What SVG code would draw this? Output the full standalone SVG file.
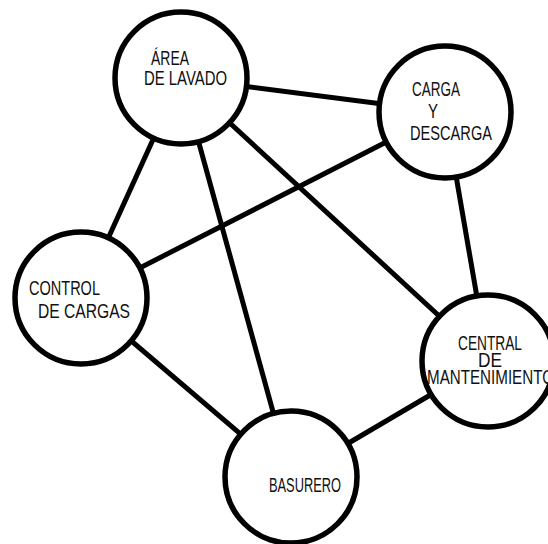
<svg xmlns="http://www.w3.org/2000/svg" width="548" height="544" viewBox="0 0 548 544">
<style>
.edge{stroke:#000;stroke-width:5;stroke-linecap:butt}
.node circle{fill:#fff;stroke:#000;stroke-width:5.5}
.node text{font-family:"Liberation Sans",Arial,sans-serif;font-size:21px;fill:#111}
</style>
<rect width="548" height="544" fill="#fff"/>
<g id="connectors">
<line class="edge" x1="181" y1="78" x2="445" y2="112"/>
<line class="edge" x1="181" y1="78" x2="81" y2="298"/>
<line class="edge" x1="181" y1="78" x2="291" y2="477"/>
<line class="edge" x1="181" y1="78" x2="488" y2="361"/>
<line class="edge" x1="445" y1="112" x2="81" y2="298"/>
<line class="edge" x1="445" y1="112" x2="488" y2="361"/>
<line class="edge" x1="81" y1="298" x2="291" y2="477"/>
<line class="edge" x1="291" y1="477" x2="488" y2="361"/>
</g>
<g id="area-lavado" class="node">
<circle cx="181" cy="78" r="66"/>
<text x="151" y="65" textLength="38" lengthAdjust="spacingAndGlyphs">ÁREA</text>
<text x="144" y="85" textLength="83" lengthAdjust="spacingAndGlyphs">DE LAVADO</text>
</g>
<g id="carga-descarga" class="node">
<circle cx="445" cy="112" r="66"/>
<text x="412" y="96" textLength="48" lengthAdjust="spacingAndGlyphs">CARGA</text>
<text x="428" y="118" textLength="10" lengthAdjust="spacingAndGlyphs">Y</text>
<text x="410" y="140" textLength="82" lengthAdjust="spacingAndGlyphs">DESCARGA</text>
</g>
<g id="control-cargas" class="node">
<circle cx="81" cy="298" r="66"/>
<text x="29" y="295" textLength="71" lengthAdjust="spacingAndGlyphs">CONTROL</text>
<text x="38" y="318" textLength="92" lengthAdjust="spacingAndGlyphs">DE CARGAS</text>
</g>
<g id="central-mantenimiento" class="node">
<circle cx="488" cy="361" r="66"/>
<text x="458" y="350" textLength="64" lengthAdjust="spacingAndGlyphs">CENTRAL</text>
<text x="478" y="367" textLength="24" lengthAdjust="spacingAndGlyphs">DE</text>
<text x="427" y="384" textLength="127" lengthAdjust="spacingAndGlyphs">MANTENIMIENTO</text>
</g>
<g id="basurero" class="node">
<circle cx="291" cy="477" r="66"/>
<text x="269" y="492" textLength="72" lengthAdjust="spacingAndGlyphs">BASURERO</text>
</g>
</svg>
